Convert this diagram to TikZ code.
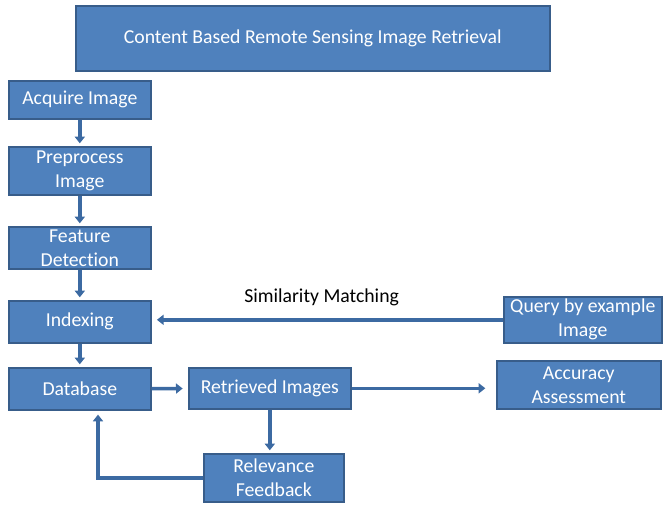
\documentclass[tikz,border=0pt]{standalone}
\usepackage{fontspec}
\setmainfont[Ligatures=NoCommon]{Carlito}
\usetikzlibrary{arrows.meta}
\definecolor{boxfill}{HTML}{4F81BD}
\definecolor{boxline}{HTML}{385D8A}
\definecolor{arrowc}{HTML}{3C6AA2}
\begin{document}
\begin{tikzpicture}[x=0.75pt,y=-0.75pt,
  blk/.style={draw=boxline,line width=1.2pt,fill=boxfill,text=white,anchor=north west,
    align=center,inner sep=0pt,font=\fontsize{14.8}{18}\selectfont},
  conn/.style={draw=arrowc,line width=2.6pt,-{Triangle[length=5pt,width=7.5pt]}}]
\useasboundingbox (0,0) rectangle (663,504);
\node[blk,minimum width=474*0.75pt,minimum height=65*0.75pt] (title) at (75,5) {Content Based Remote Sensing Image Retrieval};
\node[blk,minimum width=142*0.75pt,minimum height=38*0.75pt] (acq) at (8,80) {Acquire Image};
\node[blk,minimum width=142*0.75pt,minimum height=48*0.75pt] (pre) at (8,146) {Preprocess\\Image};
\node[blk,minimum width=142*0.75pt,minimum height=42*0.75pt] (feat) at (8,226) {Feature\\Detection};
\node[blk,minimum width=142*0.75pt,minimum height=42*0.75pt] (idx) at (8,300) {Indexing};
\node[blk,minimum width=142*0.75pt,minimum height=42*0.75pt] (db) at (8,367) {Database};
\node[blk,minimum width=162*0.75pt,minimum height=41*0.75pt] (ret) at (188,367) {Retrieved Images};
\node[blk,minimum width=164*0.75pt,minimum height=48*0.75pt] (acc) at (496,360) {Accuracy\\Assessment};
\node[blk,minimum width=158*0.75pt,minimum height=46*0.75pt] (qry) at (503,296) {Query by example\\Image};
\node[blk,minimum width=140*0.75pt,minimum height=48*0.75pt] (rel) at (203,453) {Relevance\\Feedback};
\node[anchor=west,inner sep=0pt,font=\fontsize{14.8}{18}\selectfont] (sim) at (244,297) {Similarity Matching};
\draw[conn,shorten >=2pt] (acq) -- (pre);
\draw[conn,shorten >=2pt] (pre) -- (feat);
\draw[conn,shorten >=2pt] (feat) -- (idx);
\draw[conn,shorten >=2pt] (idx) -- (db);
\draw[conn,shorten >=4pt] (qry.west) -- (qry.west -| idx.east);
\draw[conn,shorten >=4pt] (db) -- (ret);
\draw[conn,shorten >=8pt] (ret) -- (ret -| acc.west);
\draw[conn,shorten >=2pt] (ret.south) -- (ret.south |- rel.north);
\coordinate (fb) at (98,0);
\draw[conn,shorten >=3pt] (rel.west) -| (fb |- db.south);
\end{tikzpicture}
\end{document}
